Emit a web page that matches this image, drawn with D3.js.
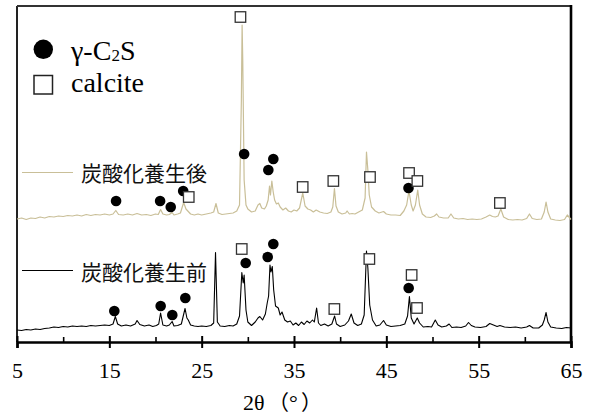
<!DOCTYPE html>
<html>
<head>
<meta charset="utf-8">
<script src="https://cdn.jsdelivr.net/npm/d3@7"></script>
<style>
  body { margin: 0; background: #fff; }
  svg { display: block; }
</style>
</head>
<body>
<svg id="chart" width="596" height="418"></svg>
<script>
// tick labels
const xTicks = [5, 15, 25, 35, 45, 55, 65];
const xMinorTicks = [10, 20, 30, 40, 50, 60];

// series names
const afterName = '炭酸化養生後';
const beforeName = '炭酸化養生前';
const afterOffset = 110; // patterns are stacked

// [2θ, intensity]
const afterPattern = [
  [5.0, 13], [5.5, 14], [6.0, 12.5], [6.5, 14], [7.0, 13.5], [7.5, 15], [8.0, 14], [8.5, 15.5],
  [9.0, 15], [9.5, 16], [10.0, 15.5], [10.5, 16.5], [11.0, 16], [11.5, 17], [12.0, 16], [12.5, 17.5],
  [13.0, 16.5], [13.5, 17.5], [14.0, 17], [14.5, 18], [15.0, 17], [15.4, 18], [15.7, 21.5], [16.0, 17.5],
  [16.5, 17], [17.0, 18], [17.5, 17], [18.0, 18.5], [18.5, 17], [19.0, 17.5], [19.5, 16.5], [20.0, 18],
  [20.3, 17.5], [20.55, 22.5], [20.8, 18], [21.2, 17], [21.5, 17.5], [21.8, 19.5], [22.0, 17], [22.4, 18],
  [22.7, 19], [23.05, 29.5], [23.3, 23], [23.5, 21], [23.8, 18], [24.2, 17], [24.6, 18], [25.0, 17],
  [25.5, 18], [26.0, 19], [26.3, 20], [26.55, 28.5], [26.8, 19], [27.2, 17.5], [27.6, 18], [28.0, 18.5],
  [28.4, 19], [28.8, 21], [29.1, 27], [29.3, 132], [29.38, 207], [29.45, 172], [29.6, 52], [29.8, 27],
  [30.0, 23], [30.4, 20], [30.8, 21], [31.1, 27], [31.3, 28.5], [31.5, 24], [31.8, 23], [32.0, 26],
  [32.2, 32], [32.35, 46], [32.45, 37], [32.6, 51], [32.75, 40], [32.9, 32], [33.1, 28], [33.3, 29],
  [33.5, 25], [33.8, 22], [34.1, 24], [34.4, 21], [34.7, 20], [35.0, 22], [35.3, 21], [35.6, 24],
  [35.95, 39], [36.2, 26], [36.5, 23], [36.8, 22], [37.1, 20], [37.4, 22], [37.8, 20], [38.2, 19],
  [38.6, 18.5], [39.0, 20], [39.2, 25], [39.38, 43.5], [39.55, 26], [39.8, 20], [40.2, 18], [40.6, 19],
  [40.75, 21], [41.0, 18], [41.3, 18.5], [41.6, 18], [42.0, 20], [42.4, 22], [42.7, 34], [42.85, 80],
  [43.0, 62], [43.15, 37], [43.4, 25], [43.8, 21], [44.2, 19], [44.7, 20.5], [45.0, 18], [45.5, 17],
  [46.0, 17], [46.5, 16.5], [46.9, 21], [47.2, 27], [47.45, 41], [47.7, 27], [47.9, 21], [48.15, 27],
  [48.4, 42], [48.6, 27], [48.9, 18], [49.3, 15], [49.8, 14.5], [50.2, 16], [50.45, 18], [50.7, 15],
  [51.2, 14], [51.7, 14], [52.0, 18], [52.3, 14], [52.8, 13], [53.3, 13.5], [53.8, 12.5], [54.3, 13],
  [54.8, 12.5], [55.3, 13], [55.8, 15], [56.2, 17], [56.5, 15.5], [56.8, 15], [57.1, 16], [57.4, 23],
  [57.7, 15], [58.2, 12.5], [58.7, 12], [59.2, 12.5], [59.7, 12], [60.2, 13.5], [60.5, 18], [60.8, 13.5],
  [61.3, 12.5], [61.8, 13], [62.1, 20], [62.3, 30], [62.5, 20], [62.8, 13], [63.3, 12], [63.8, 11.5],
  [64.3, 12.5], [64.6, 17], [65.0, 12.5]
];

const beforePattern = [
  [5.0, 12], [5.5, 11.5], [6.0, 12.5], [6.5, 12], [7.0, 13], [7.5, 12.5], [8.0, 13.5], [8.5, 14],
  [9.0, 15], [9.5, 14.5], [10.0, 15.5], [10.5, 15], [11.0, 16], [11.5, 15.5], [12.0, 16], [12.5, 15.5],
  [13.0, 16.5], [13.5, 16], [14.0, 16.5], [14.5, 17], [15.0, 16.5], [15.4, 18], [15.65, 25.5], [15.9, 18],
  [16.3, 16], [16.8, 17], [17.3, 16], [17.8, 18], [18.0, 21.5], [18.3, 17.5], [18.8, 16], [19.3, 17],
  [19.7, 15.5], [20.1, 16.5], [20.35, 18], [20.55, 29], [20.8, 17], [21.2, 16], [21.5, 17], [21.8, 20.5],
  [22.0, 16], [22.4, 16.5], [22.8, 18], [23.2, 33.5], [23.4, 24], [23.55, 22], [23.8, 17], [24.2, 16],
  [24.6, 15.5], [25.0, 16], [25.5, 15.5], [26.0, 16.5], [26.3, 19], [26.5, 89.5], [26.7, 20], [27.0, 16],
  [27.5, 15.5], [28.0, 16.5], [28.4, 16], [28.8, 18], [29.1, 26], [29.35, 69.5], [29.5, 59], [29.6, 67],
  [29.8, 32], [30.0, 20], [30.4, 16.5], [30.8, 20], [31.1, 24], [31.3, 25.5], [31.6, 22], [31.9, 28],
  [32.1, 39], [32.25, 46], [32.4, 77], [32.5, 70], [32.65, 75.5], [32.8, 52], [33.0, 36], [33.3, 34],
  [33.5, 27], [33.7, 30], [34.0, 22], [34.3, 20], [34.6, 21], [34.9, 17], [35.2, 19], [35.5, 16.5],
  [35.8, 20], [36.1, 17.5], [36.4, 21], [36.7, 19], [37.0, 22], [37.2, 20], [37.45, 34], [37.65, 19],
  [37.9, 16.5], [38.3, 18], [38.7, 16], [39.1, 18], [39.4, 26], [39.6, 18], [40.0, 15.5], [40.5, 17],
  [40.9, 21], [41.2, 28], [41.5, 19], [41.9, 16.5], [42.3, 18], [42.6, 27], [42.85, 91], [43.0, 74],
  [43.2, 37], [43.5, 22], [43.9, 16], [44.3, 17], [44.7, 21.5], [45.0, 17], [45.5, 15.5], [46.0, 16],
  [46.5, 16.5], [47.0, 18], [47.3, 26], [47.5, 45.5], [47.7, 24], [48.0, 18], [48.35, 24], [48.6, 19],
  [49.0, 15], [49.5, 15.5], [49.9, 15], [50.3, 22], [50.6, 17], [51.0, 15], [51.5, 16], [51.8, 18],
  [52.1, 14.5], [52.6, 15], [53.1, 14.5], [53.6, 16], [53.9, 19.5], [54.2, 16.5], [54.6, 15], [55.2, 14.5],
  [55.8, 15.5], [56.2, 18.5], [56.6, 17], [57.0, 15.5], [57.3, 16.5], [57.8, 15], [58.4, 14.5], [59.0, 15],
  [59.6, 14], [60.2, 15], [60.5, 16.5], [60.9, 14], [61.5, 14], [61.9, 17], [62.1, 22], [62.3, 29.5],
  [62.5, 20], [62.8, 15], [63.4, 14], [64.0, 13.5], [64.5, 14.5], [65.0, 14]
];

// phase marks [2θ, intensity]
const afterC2S = [[15.73, 31], [20.5, 31], [21.65, 25], [23.0, 41], [29.6, 78], [32.22, 62], [32.76, 73], [47.4, 44]];
const afterCalcite = [[23.6, 35], [29.2, 215], [35.94, 45], [39.26, 51], [43.23, 55], [47.46, 59], [48.36, 51], [57.3, 29]];
const beforeC2S = [[15.54, 31], [20.56, 36], [21.82, 27], [23.23, 44], [29.77, 79], [32.15, 85], [32.76, 98], [47.42, 54]];
const beforeCalcite = [[29.34, 93], [39.37, 33], [43.16, 83], [47.74, 67], [48.32, 34]];

const svg = d3.select('#chart');
const x = d3.scaleLinear().domain([5, 65]).range([17, 571]);
const y = d3.scaleLinear().domain([0, 336]).range([342, 6]);

const afterColor = '#c9bf98';
const serif = "'Liberation Serif'";
const gothic = "'Noto Sans CJK JP'";

// frame
svg.append('line').attr('x1', x(5)).attr('x2', x(5)).attr('y1', y(336)).attr('y2', y(0))
  .attr('stroke', '#222').attr('stroke-width', 2);
svg.append('line').attr('x1', x(5)).attr('x2', x(65)).attr('y1', y(336)).attr('y2', y(336))
  .attr('stroke', '#333').attr('stroke-width', 2);
svg.append('line').attr('x1', x(65)).attr('x2', x(65)).attr('y1', y(336) - 1).attr('y2', y(0))
  .attr('stroke', '#000').attr('stroke-width', 2.6);

// traces
function lineFor (offset) {
  return d3.line()
    .x(function (d) { return x(d[0]); })
    .y(function (d) { return y(d[1] + offset); });
}

svg.append('path').datum(afterPattern)
  .attr('d', lineFor(afterOffset))
  .attr('fill', 'none').attr('stroke', afterColor).attr('stroke-width', 1.2)
  .attr('stroke-linejoin', 'round');
svg.append('path').datum(beforePattern)
  .attr('d', lineFor(0))
  .attr('fill', 'none').attr('stroke', '#000').attr('stroke-width', 1.1)
  .attr('stroke-linejoin', 'round');

// x axis
const axis = svg.append('g').attr('transform', 'translate(0,' + y(0) + ')')
  .call(d3.axisBottom(x).tickValues(xTicks).tickSizeOuter(0).tickSize(6));
axis.select('.domain').attr('stroke', '#000').attr('stroke-width', 2.6);
axis.selectAll('.tick line').attr('y1', -6).attr('y2', 6).attr('stroke', '#000').attr('stroke-width', 2);
axis.selectAll('.tick text')
  .attr('y', 36).attr('dy', null).attr('fill', '#000')
  .style('font-family', serif).style('font-size', '22px');

const minor = svg.append('g').attr('transform', 'translate(0,' + y(0) + ')')
  .call(d3.axisBottom(x).tickValues(xMinorTicks).tickSize(-5).tickSizeOuter(0).tickFormat(''));
minor.select('.domain').remove();
minor.selectAll('.tick line').attr('stroke', '#000').attr('stroke-width', 1.6);

// axis title, the wide brackets placed one by one
const xTitle = svg.append('text').attr('x', 243).attr('y', 410)
  .style('font-family', serif).style('font-size', '22px');
xTitle.append('tspan').text('2θ');
xTitle.append('tspan').attr('x', 268).style('font-family', gothic).style('font-size', '21px').text('（');
xTitle.append('tspan').attr('x', 289).text('°');
xTitle.append('tspan').attr('x', 301).style('font-family', gothic).style('font-size', '21px').text('）');

// phase markers
function drawCircles (data, offset) {
  svg.selectAll(null).data(data).enter().append('circle')
    .attr('cx', function (d) { return x(d[0]); })
    .attr('cy', function (d) { return y(d[1] + offset); })
    .attr('r', 5.3)
    .attr('fill', '#000');
}
function drawSquares (data, offset) {
  const s = 10.5;
  svg.selectAll(null).data(data).enter().append('rect')
    .attr('x', function (d) { return x(d[0]) - s / 2; })
    .attr('y', function (d) { return y(d[1] + offset) - s / 2; })
    .attr('width', s).attr('height', s)
    .attr('fill', '#fff').attr('stroke', '#333').attr('stroke-width', 1.3);
}
drawCircles(afterC2S, afterOffset);
drawSquares(afterCalcite, afterOffset);
drawCircles(beforeC2S, 0);
drawSquares(beforeCalcite, 0);

// series labels
svg.append('line').attr('x1', 22).attr('x2', 73).attr('y1', 172.5).attr('y2', 172.5)
  .attr('stroke', afterColor).attr('stroke-width', 1.2);
svg.append('text').attr('x', 81).attr('y', 181).attr('fill', '#111')
  .style('font-family', gothic).style('font-size', '21px')
  .text(afterName);
svg.append('line').attr('x1', 22).attr('x2', 73).attr('y1', 270.5).attr('y2', 270.5)
  .attr('stroke', '#000').attr('stroke-width', 1.1);
svg.append('text').attr('x', 81).attr('y', 280).attr('fill', '#111')
  .style('font-family', gothic).style('font-size', '21px')
  .text(beforeName);

// legend
svg.append('circle').attr('cx', 43.3).attr('cy', 49.3).attr('r', 9.7).attr('fill', '#000');
const c2s = svg.append('text').attr('x', 71).attr('y', 60)
  .style('font-family', serif).style('font-size', '28px');
c2s.append('tspan').text('γ-C');
c2s.append('tspan').style('font-size', '17px').attr('dy', 1).text('2');
c2s.append('tspan').attr('dy', -1).text('S');
svg.append('rect').attr('x', 34).attr('y', 75.5).attr('width', 18.5).attr('height', 18.5)
  .attr('fill', '#fff').attr('stroke', '#222').attr('stroke-width', 1.5);
svg.append('text').attr('x', 71).attr('y', 92)
  .style('font-family', serif).style('font-size', '28px')
  .text('calcite');
</script>
</body>
</html>
